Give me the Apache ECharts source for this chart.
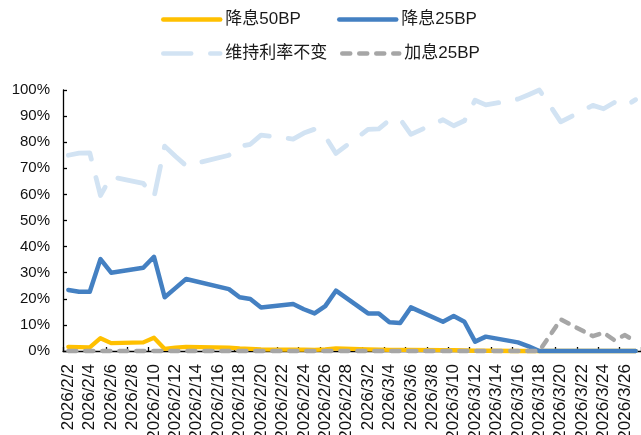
<!DOCTYPE html>
<html>
<head>
<meta charset="utf-8">
<script src="https://cdn.jsdelivr.net/npm/echarts@6/dist/echarts.min.js"></script>
<style>
  html, body { margin: 0; padding: 0; background: #fff; }
  #chart { width: 641px; height: 435px; }
</style>
</head>
<body>
<div id="chart"></div>
<script>
// Calendar days on the category axis; null = no quote that day (weekend / holiday)
const dates = [
  '2026/2/2','2026/2/3','2026/2/4','2026/2/5','2026/2/6','2026/2/7','2026/2/8','2026/2/9',
  '2026/2/10','2026/2/11','2026/2/12','2026/2/13','2026/2/14','2026/2/15','2026/2/16','2026/2/17',
  '2026/2/18','2026/2/19','2026/2/20','2026/2/21','2026/2/22','2026/2/23','2026/2/24','2026/2/25',
  '2026/2/26','2026/2/27','2026/2/28','2026/3/1','2026/3/2','2026/3/3','2026/3/4','2026/3/5',
  '2026/3/6','2026/3/7','2026/3/8','2026/3/9','2026/3/10','2026/3/11','2026/3/12','2026/3/13',
  '2026/3/14','2026/3/15','2026/3/16','2026/3/17','2026/3/18','2026/3/19','2026/3/20','2026/3/21',
  '2026/3/22','2026/3/23','2026/3/24','2026/3/25','2026/3/26','2026/3/27'
];

// Probabilities, %
const cut50 = [
  1.6, 1.5, 1.4, 4.9, 3.0, null, null, 3.3,
  5.1, 0.8, 1.3, 1.6, null, null, null, 1.3,
  1.0, 0.8, 0.6, null, null, 0.5, 0.5, 0.4,
  0.6, 1.0, null, null, 0.6, 0.5, 0.4, 0.4,
  0.4, null, null, 0.3, 0.3, 0.2, 0.1, 0.1,
  null, null, 0, 0, 0, 0, 0, null,
  null, 0, 0, 0, 0, 0
];
const cut25 = [
  23.4, 22.7, 22.7, 35.2, 30.0, null, null, 31.9,
  36.1, 20.6, 24.1, 27.6, null, null, null, 23.7,
  20.6, 19.9, 16.7, null, null, 18.0, 16.0, 14.4,
  17.2, 23.1, null, null, 14.4, 14.4, 11.0, 10.7,
  16.7, null, null, 11.2, 13.4, 11.2, 3.6, 5.5,
  null, null, 3.3, 1.8, 0, 0, 0, null,
  null, 0, 0, 0, 0, 0
];
const hold = [
  75.0, 75.8, 75.9, 59.6, 66.8, null, null, 64.2,
  58.9, 78.5, 74.6, 71.0, null, null, null, 75.0,
  78.4, 79.2, 82.7, null, null, 81.2, 83.5, 85.0,
  82.2, 75.7, null, null, 84.9, 85.1, 88.5, 88.8,
  83.0, null, null, 88.6, 86.3, 88.2, 96.1, 94.3,
  null, null, 96.5, 98.2, 100, 94.0, 87.8, null,
  null, 94.1, 92.8, 95.2, 93.8, 96.3
];
const hike25 = [
  0, 0, 0, 0, 0, null, null, 0,
  0, 0, 0, 0, null, null, null, 0,
  0, 0, 0, null, null, 0, 0, 0,
  0, 0, null, null, 0, 0, 0, 0,
  0, null, null, 0, 0, 0, 0, 0,
  null, null, 0, 0, 0, 6.0, 12.1, null,
  null, 5.7, 7.0, 4.2, 6.1, 3.6
];
const yTicks = [0, 10, 20, 30, 40, 50, 60, 70, 80, 90, 100];

const FONT = '"Liberation Sans", Arial, "Noto Sans CJK SC", sans-serif';

function lineSeries(name, data, color, width, dash) {
  return {
    name: name,
    type: 'line',
    data: data,
    connectNulls: true,
    showSymbol: false,
    symbol: 'none',
    clip: false,
    animation: false,
    lineStyle: {
      color: color,
      width: width,
      type: dash || 'solid',
      cap: 'round',
      join: 'round'
    },
    itemStyle: { color: color }
  };
}

function legendBox(name, left, top) {
  return {
    data: [name],
    left: left,
    top: top,
    padding: 0,
    itemWidth: 57,
    itemHeight: 14,
    itemGap: 0,
    itemStyle: { opacity: 0 },
    lineStyle: { width: 4.5, cap: 'round' },
    textStyle: { fontFamily: FONT, fontSize: 17, color: '#1a1a1a', padding: [0, 0, 0, 0] }
  };
}

const chart = echarts.init(document.getElementById('chart'), null, { renderer: 'canvas' });
chart.setOption({
  backgroundColor: '#ffffff',
  animation: false,
  legend: [
    legendBox('降息50BP', 161, 11),
    legendBox('降息25BP', 337, 11),
    legendBox('维持利率不变', 161, 45),
    legendBox('加息25BP', 340, 45)
  ],
  grid: { left: 63, right: 0, top: 90, bottom: 84, containLabel: false, outerBoundsMode: 'none' },
  xAxis: {
    type: 'category',
    data: dates,
    boundaryGap: true,
    axisLine: { show: true, lineStyle: { color: '#000', width: 1.3 } },
    axisTick: { show: true, inside: true, length: 4, interval: 1, lineStyle: { color: '#000', width: 1.3 } },
    axisLabel: {
      interval: 1,
      rotate: 90,
      margin: 13,
      fontFamily: FONT,
      fontSize: 17,
      color: '#111'
    },
    splitLine: { show: false }
  },
  yAxis: {
    type: 'value',
    min: yTicks[0],
    max: yTicks[yTicks.length - 1],
    interval: 10,
    axisLine: { show: true, lineStyle: { color: '#000', width: 1.3 } },
    axisTick: { show: true, inside: true, length: 4, lineStyle: { color: '#000', width: 1.3 } },
    axisLabel: {
      formatter: '{value}%',
      margin: 13,
      fontFamily: FONT,
      fontSize: 15,
      color: '#111'
    },
    splitLine: { show: false }
  },
  series: [
    lineSeries('降息50BP', cut50, '#FFC000', 4.3),
    lineSeries('降息25BP', cut25, '#4480C2', 4.5),
    lineSeries('维持利率不变', hold, '#D2E3F3', 4.8, [28, 19]),
    lineSeries('加息25BP', hike25, '#A6A6A6', 4.5, [8, 9])
  ]
});
</script>
</body>
</html>
